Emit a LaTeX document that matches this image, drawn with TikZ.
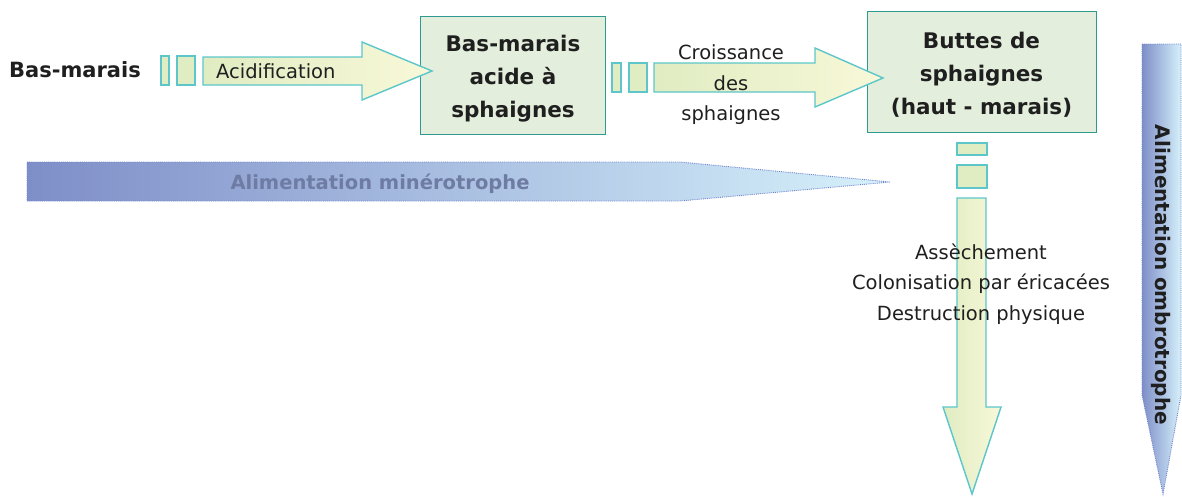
\documentclass[tikz,border=0pt]{standalone}
\usepackage{fontspec}
\setmainfont{DejaVu Sans}
\definecolor{arrowline}{HTML}{5CC6CA}
\definecolor{boxline}{HTML}{2E9A90}
\definecolor{boxfill}{HTML}{E3EEDC}
\definecolor{ylA}{HTML}{E0ECC2}
\definecolor{ylB}{HTML}{F8F8D8}
\definecolor{blueA}{HTML}{7E8EC8}
\definecolor{blueB}{HTML}{D6F1FB}
\definecolor{blueline}{HTML}{6F86CC}
\definecolor{greytext}{HTML}{6E7CA4}
\begin{document}
\begin{tikzpicture}[x=1pt,y=-1pt,
  yarrow/.style={draw=arrowline, line width=1.4pt, left color=ylA, right color=ylB, line join=miter},
  vyarrow/.style={draw=arrowline, line width=1.4pt, left color=ylA, right color=ylB, line join=miter},
  smallrect/.style={draw=arrowline, line width=1.4pt, fill=ylA},
  stagebox/.style={draw=boxline, line width=1pt, fill=boxfill, inner sep=0pt},
  boxtext/.style={align=center, inner sep=0pt, font=\bfseries\fontsize{21.5}{33}\selectfont, text=black!88},
  bluearrow/.style={draw=blueline, densely dotted, line width=0.9pt, left color=blueA, right color=blueB},
  lbl/.style={align=center, inner sep=0pt, font=\fontsize{19.5}{30.5}\selectfont, text=black!88},
  blbl/.style={inner sep=0pt, font=\bfseries\fontsize{21}{24}\selectfont, text=black!88}
]
\useasboundingbox (0,0) rectangle (1182,496);

% blue arrows
\path[bluearrow] (27,162) -- (680,162) -- (890,182) -- (680,201) -- (27,201) -- cycle;
\node[inner sep=0pt, font=\bfseries\fontsize{19.5}{24}\selectfont, text=greytext] (mino) at (380,184) {Alimentation minérotrophe};
\path[bluearrow] (1142,44) -- (1181,44) -- (1181,395) -- (1163,494) -- (1142,395) -- cycle;
\node[inner sep=0pt, rotate=-90, font=\bfseries\fontsize{20}{24}\selectfont, text=black!88] (ombro) at (1161,275) {Alimentation ombrotrophe};

% stage boxes
\node[stagebox, minimum width=185pt, minimum height=118pt] (b1) at (513,75) {};
\node[boxtext] (b1t) at (513,79) {Bas-marais\\acide à\\sphaignes};
\node[stagebox, minimum width=229pt, minimum height=121pt] (b2) at (981.5,71.5) {};
\node[boxtext] (b2t) at (981.5,74.5) {Buttes de\\sphaignes\\(haut - marais)};

% start label
\node[blbl, anchor=west] (b0) at (9,70) {Bas-marais};

% arrow 1
\path[smallrect] (161,56) rectangle (169,85);
\path[smallrect] (177,56) rectangle (195,85);
\path[yarrow] (203,57) -- (362,57) -- (362,42) -- (432,71) -- (362,100) -- (362,85) -- (203,85) -- cycle;
\node[lbl, anchor=west] (acid) at (216,71) {Acidification};

% arrow 2
\path[smallrect] (612,63) rectangle (621,92);
\path[smallrect] (629,63) rectangle (647,92);
\path[yarrow] (654,63) -- (815,63) -- (815,48) -- (883,78) -- (815,107) -- (815,92) -- (654,92) -- cycle;
\node[lbl] (crois) at (731,85) {Croissance\\des\\sphaignes};

% down arrow
\path[smallrect] (957,143) rectangle (987,155);
\path[smallrect] (957,165) rectangle (987,188);
\path[vyarrow] (957,198) -- (986,198) -- (986,407) -- (1001,407) -- (972,494) -- (943,407) -- (957,407) -- cycle;
\node[lbl] (deg) at (981,284) {Assèchement\\Colonisation par éricacées\\Destruction physique};
\end{tikzpicture}
\end{document}
